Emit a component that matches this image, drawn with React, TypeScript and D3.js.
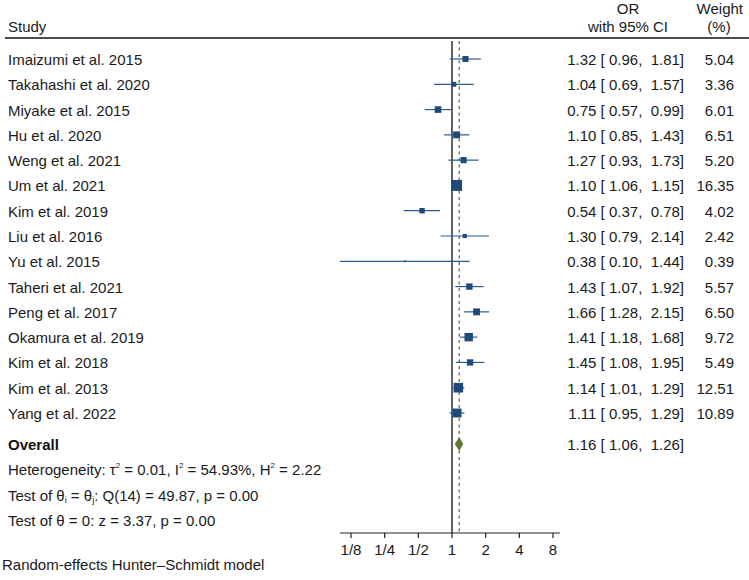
import React from "react";
import * as d3 from "d3";

const studies = [
  "Imaizumi et al. 2015", "Takahashi et al. 2020", "Miyake et al. 2015", "Hu et al. 2020",
  "Weng et al. 2021", "Um et al. 2021", "Kim et al. 2019", "Liu et al. 2016", "Yu et al. 2015",
  "Taheri et al. 2021", "Peng et al. 2017", "Okamura et al. 2019", "Kim et al. 2018",
  "Kim et al. 2013", "Yang et al. 2022",
];
const orValues = [1.32, 1.04, 0.75, 1.10, 1.27, 1.10, 0.54, 1.30, 0.38, 1.43, 1.66, 1.41, 1.45, 1.14, 1.11];
const lowerCI = [0.96, 0.69, 0.57, 0.85, 0.93, 1.06, 0.37, 0.79, 0.10, 1.07, 1.28, 1.18, 1.08, 1.01, 0.95];
const upperCI = [1.81, 1.57, 0.99, 1.43, 1.73, 1.15, 0.78, 2.14, 1.44, 1.92, 2.15, 1.68, 1.95, 1.29, 1.29];
const weights = [5.04, 3.36, 6.01, 6.51, 5.20, 16.35, 4.02, 2.42, 0.39, 5.57, 6.50, 9.72, 5.49, 12.51, 10.89];
const overall = { or: 1.16, lo: 1.06, hi: 1.26 };
const tickValues = [0.125, 0.25, 0.5, 1, 2, 4, 8];
const tickLabels = ["1/8", "1/4", "1/2", "1", "2", "4", "8"];

const FONT = "'Liberation Sans', Arial, Helvetica, sans-serif";
const BLUE = "#1d4a78";
const LINE = "#2b5b8c";
const GREEN = "#5b7b32";
const TXT = "#1a1a1a";

export default function App() {
  const W = 749, H = 580;
  const x = d3.scaleLog().base(2).domain([0.125, 8]).range([351, 553]);
  const y = d3.scaleLinear().domain([0, 14]).range([59, 413]);
  const overallY = 444;
  const statBase = [475, 501, 526];
  const axisY = 533;
  const fmt = d3.format(".2f");
  const sizeK = 2.7;

  return (
    <div style={{ position: "absolute", left: 0, top: 0 }}>
      <svg width={W} height={H} style={{ display: "block", fontFamily: FONT }} fontSize={15}>
        <rect width={W} height={H} fill="#fff" />
        {/* header */}
        <text x={8} y={32} fill={TXT}>Study</text>
        <text x={628} y={14} textAnchor="middle" fill={TXT}>OR</text>
        <text x={628} y={32} textAnchor="middle" fill={TXT}>with 95% CI</text>
        <text x={743} y={14} textAnchor="end" fill={TXT}>Weight</text>
        <text x={719} y={32} textAnchor="middle" fill={TXT}>(%)</text>
        <line x1={5} x2={W} y1={38} y2={38} stroke="#111" strokeWidth={1.3} />

        {/* reference lines */}
        <line x1={x(1)} x2={x(1)} y1={41} y2={axisY} stroke="#222" strokeWidth={1.4} />
        <line x1={x(overall.or)} x2={x(overall.or)} y1={41} y2={axisY} stroke={GREEN} strokeWidth={1.3} strokeDasharray="3,3.5" />

        {/* study rows */}
        {studies.map((s, i) => {
          const cy = y(i);
          const side = sizeK * Math.sqrt(weights[i]);
          return (
            <g key={s}>
              <text x={8} y={cy + 6} fill={TXT}>{s}</text>
              <line x1={x(lowerCI[i])} x2={x(upperCI[i])} y1={cy} y2={cy} stroke={LINE} strokeWidth={1.2} />
              <rect x={x(orValues[i]) - side / 2} y={cy - side / 2} width={side} height={side} fill={BLUE} />
              <text x={684} y={cy + 6} textAnchor="end" fill={TXT} style={{ whiteSpace: "pre" }}>
                {`${fmt(orValues[i])} [ ${fmt(lowerCI[i])},  ${fmt(upperCI[i])}]`}
              </text>
              <text x={734} y={cy + 6} textAnchor="end" fill={TXT}>{fmt(weights[i])}</text>
            </g>
          );
        })}

        {/* overall */}
        <text x={8} y={overallY + 6} fill="#111" fontWeight="bold">Overall</text>
        <path
          d={`M${x(overall.lo)},${overallY} L${x(overall.or)},${overallY - 7} L${x(overall.hi)},${overallY} L${x(overall.or)},${overallY + 7} Z`}
          fill={GREEN}
        />
        <text x={684} y={overallY + 6} textAnchor="end" fill={TXT} style={{ whiteSpace: "pre" }}>
          {`${fmt(overall.or)} [ ${fmt(overall.lo)},  ${fmt(overall.hi)}]`}
        </text>

        {/* stats */}
        <text x={8} y={statBase[0]} fill={TXT}>
          Heterogeneity: τ<tspan dy={-7} fontSize={8}>2</tspan>
          <tspan dy={7}> = 0.01, I</tspan><tspan dy={-7} fontSize={8}>2</tspan>
          <tspan dy={7}> = 54.93%, H</tspan><tspan dy={-7} fontSize={8}>2</tspan>
          <tspan dy={7}> = 2.22</tspan>
        </text>
        <text x={8} y={statBase[1]} fill={TXT}>
          Test of θ<tspan dy={2} fontSize={9}>i</tspan>
          <tspan dy={-2}> = θ</tspan><tspan dy={2} fontSize={9}>j</tspan>
          <tspan dy={-2}>: Q(14) = 49.87, p = 0.00</tspan>
        </text>
        <text x={8} y={statBase[2]} fill={TXT}>Test of θ = 0: z = 3.37, p = 0.00</text>

        {/* axis */}
        <line x1={340} x2={560} y1={axisY} y2={axisY} stroke="#222" strokeWidth={1.2} />
        {tickValues.map((t, i) => (
          <g key={t}>
            <line x1={x(t)} x2={x(t)} y1={axisY} y2={axisY + 5} stroke="#222" strokeWidth={1.2} />
            <text x={x(t)} y={axisY + 22} textAnchor="middle" fill={TXT}>{tickLabels[i]}</text>
          </g>
        ))}

        <text x={2} y={570} fill={TXT}>Random-effects Hunter–Schmidt model</text>
      </svg>
    </div>
  );
}
